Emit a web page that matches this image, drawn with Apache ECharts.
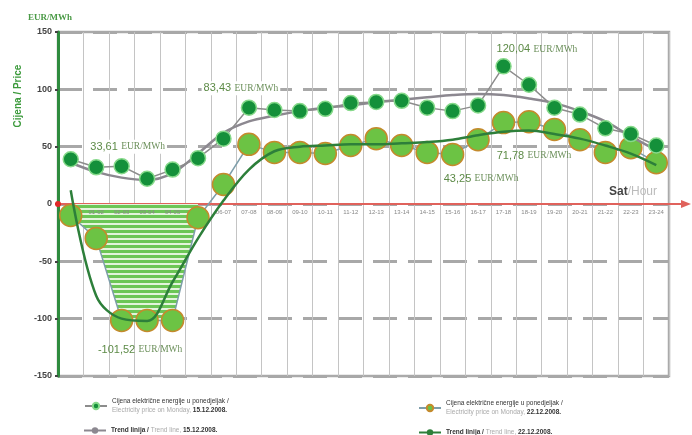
<!DOCTYPE html>
<html><head><meta charset="utf-8">
<script src="https://cdn.jsdelivr.net/npm/echarts@6/dist/echarts.min.js"></script>
<style>html,body{margin:0;padding:0;background:#fff}#c{width:692px;height:435px}</style>
</head><body><div id="c"></div>
<script>
// ---- data ----
const hours = ['00-01','01-02','02-03','03-04','04-05','05-06','06-07','07-08','08-09','09-10','10-11','11-12',
               '12-13','13-14','14-15','15-16','16-17','17-18','18-19','19-20','20-21','21-22','22-23','23-24'];
const price15 = [39, 32, 33, 22, 30, 40, 57, 84, 82, 81, 83, 88, 89, 90, 84, 81, 86, 120.04, 104, 84, 78, 66, 61, 51];
const price22 = [-10, -30, -101.52, -101.52, -101.52, -12, 17, 52, 45, 45, 44, 51, 57, 51, 45, 43.25, 56, 71, 71.78, 65, 56, 45, 49, 36];
const trend15 = [36, 28, 23, 21, 27, 44, 62, 72, 77, 81, 84, 86, 89, 91, 93, 95, 96, 95, 92, 88, 81, 72, 59, 47];
const trend22 = [12, -80, -100, -102, -68, -30, 3, 30, 46, 50, 51, 52, 52, 53, 54, 56, 60, 63, 64, 61, 57, 51, 44, 34];
const yTickValues = [-150, -100, -50, 0, 50, 100, 150];
const noteTexts = ['33,61', '83,43', '120,04', '71,78', '43,25', '-101,52'];
const noteCats = [2, 7, 18, 18, 16, 3];
const noteVals = [50, 100, 135, 42, 22, -127];

const N1 = 'p15', N2 = 't15', N3 = 'p22', N4 = 't22';
const negArea = price22.map(v => v < 0 ? v : null);

// ---- styles ----
const pc = document.createElement('canvas'); pc.width = 8; pc.height = 5;
const g = pc.getContext('2d');
g.fillStyle = '#6cc656'; g.fillRect(0, 0, 8, 5);
g.fillStyle = '#e3f4dc'; g.fillRect(0, 3, 8, 2);

const W = 692, H = 435;
const GRID = {left: 58, right: 23, top: 32, bottom: 59};
const yMin = yTickValues[0], yMax = yTickValues[yTickValues.length - 1];
const plotH = H - GRID.top - GRID.bottom;
const zeroOffset = -plotH * (0 - yMin) / (yMax - yMin); // move x axis from bottom to value 0

const noteOffsets = [[6, 0], [-8, -1], [8, 0], [5, 0], [3, 0], [-7, 0]];
const noteBg = [true, true, false, false, false, false];
const richNote = {
  n: {fontFamily: 'Liberation Sans', fontSize: 11, color: '#5c8a46'},
  u: {fontFamily: 'Liberation Serif', fontSize: 9.5, color: '#6b8f5a'}
};
const legRich = {
  a: {fontFamily: 'Liberation Sans', fontSize: 6.5, color: '#333', lineHeight: 9},
  b: {fontFamily: 'Liberation Sans', fontSize: 6.5, color: '#aaa', lineHeight: 9},
  c: {fontFamily: 'Liberation Sans', fontSize: 6.5, color: '#333', fontWeight: 'bold', lineHeight: 9}
};
const legendText = {
  p15: '{a|Cijena električne energije u ponedjeljak /}\n{b|Electricity price on Monday, }{c|15.12.2008.}',
  t15: '{c|Trend linija /}{b| Trend line, }{c|15.12.2008.}',
  p22: '{a|Cijena električne energije u ponedjeljak /}\n{b|Electricity price on Monday, }{c|22.12.2008.}',
  t22: '{c|Trend linija /}{b| Trend line, }{c|22.12.2008.}'
};
function mkLegend(name, left, top) {
  return {data: [name], left: left, top: top, itemWidth: 22, itemHeight: 8, itemGap: 6,
    selectedMode: false, formatter: n => legendText[n], textStyle: {rich: legRich}};
}

const chart = echarts.init(document.getElementById('c'));
chart.setOption({
  animation: false,
  backgroundColor: '#fff',
  grid: Object.assign({show: true, borderColor: '#aaa', borderWidth: 2.5}, GRID),
  legend: [mkLegend(N1, 79, 393), mkLegend(N2, 78, 422), mkLegend(N3, 413, 395), mkLegend(N4, 413, 424)],
  xAxis: [{
    type: 'category', data: hours, boundaryGap: true, position: 'bottom', offset: zeroOffset,
    axisLine: {onZero: false, lineStyle: {color: '#e0625c', width: 2}},
    axisTick: {show: false},
    axisLabel: {show: false, interval: 0},
    splitLine: {show: true, interval: 0, lineStyle: {color: '#c4c4c4', width: 1}},
    name: '{s|Sat}{h|/Hour}', nameLocation: 'end', nameGap: -60,
    nameTextStyle: {verticalAlign: 'bottom', padding: [0, 0, 6, 0],
      rich: {s: {fontSize: 12, fontWeight: 'bold', color: '#444', fontFamily: 'Liberation Sans'},
             h: {fontSize: 12, color: '#bbb', fontFamily: 'Liberation Sans'}}}
  }, {
    type: 'category', data: hours, boundaryGap: true, position: 'bottom', offset: zeroOffset, z: 2,
    axisLine: {show: false}, axisTick: {show: false}, splitLine: {show: false},
    axisLabel: {interval: 0, fontSize: 6, color: '#888', margin: 5, fontFamily: 'Liberation Sans'}
  }],
  yAxis: {
    type: 'value', min: yMin, max: yMax, interval: 50,
    axisLine: {show: true, lineStyle: {color: '#2e8b3e', width: 3}},
    axisTick: {show: true, length: 3, lineStyle: {color: '#444', width: 2}},
    axisLabel: {fontSize: 9, fontWeight: 'bold', color: '#444', margin: 6, fontFamily: 'Liberation Sans'},
    splitLine: {show: true, lineStyle: {color: '#a8a8a8', width: 3, type: [24, 11]}},
    name: 'EUR/MWh', nameLocation: 'end', nameGap: 10,
    nameTextStyle: {color: '#4a9a46', fontSize: 9, fontFamily: 'Liberation Serif', fontWeight: 'bold', padding: [0, 16, 0, 0]}
  },
  series: [
    {type: 'line', name: 'neg', data: negArea, symbol: 'none', z: 1,
     lineStyle: {width: 0, opacity: 0}, areaStyle: {color: {image: pc, repeat: 'repeat'}, opacity: 1, origin: 0}},
    {type: 'line', name: N3, data: price22, z: 3, symbol: 'circle', symbolSize: 22, showAllSymbol: true,
     itemStyle: {color: '#6cc344', borderColor: '#c48a2c', borderWidth: 1.5},
     lineStyle: {color: '#7e9eaa', width: 1.5}},
    {type: 'line', name: N4, data: trend22, z: 4, smooth: 0.35, symbol: 'none', showSymbol: false,
     itemStyle: {color: '#2d7f3a'}, lineStyle: {color: '#2d7f3a', width: 2.5}},
    {type: 'line', name: N2, data: trend15, z: 4, smooth: 0.35, symbol: 'none', showSymbol: false,
     itemStyle: {color: '#8c8890'}, lineStyle: {color: '#8c8890', width: 2.5}},
    {type: 'line', name: N1, data: price15, z: 5, symbol: 'circle', symbolSize: 15, showAllSymbol: true,
     itemStyle: {color: '#14903a', borderColor: '#86d98a', borderWidth: 1.5},
     lineStyle: {color: '#8c8c8c', width: 1.5},
     markPoint: {
       symbol: 'circle', symbolSize: 1, itemStyle: {color: 'rgba(0,0,0,0)'},
       data: noteTexts.map((t, i) => ({
         coord: [noteCats[i], noteVals[i]],
         label: {show: true, position: 'inside', offset: noteOffsets[i],
           formatter: '{n|' + t + '} {u|EUR/MWh}', rich: richNote,
           backgroundColor: noteBg[i] ? '#fff' : 'transparent', padding: [1, 2]}
       }))
     }}
  ]
});

const y0 = chart.convertToPixel({yAxisIndex: 0}, 0);
const gr = chart.getWidth() - GRID.right;
chart.setOption({graphic: [
  {type: 'line', z: 10, shape: {x1: gr, y1: y0, x2: 683, y2: y0}, style: {stroke: '#e0625c', lineWidth: 2}},
  {type: 'polygon', z: 10, shape: {points: [[681, y0 - 4], [691, y0], [681, y0 + 4]]}, style: {fill: '#e0625c'}},
  {type: 'circle', z: 10, shape: {cx: GRID.left, cy: y0, r: 3}, style: {fill: '#e02828'}},
  {type: 'text', z: 10, x: 18, y: 96, rotation: Math.PI / 2,
   style: {text: 'Cijena / Price', fill: '#3c9a3c', font: 'bold 10px "Liberation Sans"', align: 'center', verticalAlign: 'middle'}}
]});
</script></body></html>
